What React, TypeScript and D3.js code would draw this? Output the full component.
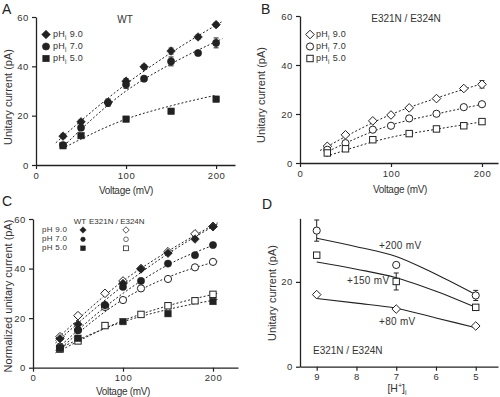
import React, { useEffect, useRef } from 'react'
import * as d3 from 'd3'

// ---- data ----
const voltage = [30, 50, 80, 100, 120, 150, 180, 200]
const voltageWt5 = [30, 50, 100, 150, 200]
const voltageMut5 = [30, 50, 80, 120, 150, 180, 200]

// A: WT unitary current (pA)
const wtPh9 = [11.7, 17.5, 25.3, 34, 39.8, 46.2, 51.9, 56.9]
const wtPh9Err = [0.8, 0.8, 1.5, 1, 0.8, 1.2, 0.8, 0.8]
const wtPh7 = [8.1, 15.1, 25.3, 32.6, 35, 42, 45.4, 49.5]
const wtPh7Err = [0.8, 1, 1, 1.5, 0.8, 1.8, 0.8, 2]
const wtPh5 = [7.8, 11.9, 18.6, 21.8, 26.7]

// B: E321N / E324N
const mutPh9 = [6.8, 11.5, 17.2, 19.6, 22.5, 26.3, 30.4, 32.1]
const mutPh9Err = [0.5, 0.5, 0.5, 0.5, 0.5, 0.5, 0.5, 1.5]
const mutPh7 = [5.4, 8.1, 13.6, 15.2, 18.2, 20.1, 22.8, 24]
const mutPh5 = [4.1, 5.8, 9.5, 12, 13.9, 15.2, 16.9]

// C: normalized mutant current
const normPh9 = [12.5, 21, 30, 35, 40, 46.8, 54, 57]
const normPh7 = [8.5, 15.2, 24.5, 27.3, 32, 35.8, 40.5, 42.7]
const normPh5 = [7.5, 10.8, 17, 21.5, 25, 27, 29.6]

// D: current vs [H+]
const hLevels = [9, 7, 5]
const at200 = [32.1, 24, 16.8]
const at200Err = [2.5, 0.5, 1.2]
const at150 = [26.3, 20.1, 14]
const at150Err = [0.5, 2, 0.5]
const at80 = [17, 13.6, 9.6]
const hFit = [9, 8, 7, 6, 5]
const fit200 = [30.3, 28.3, 26, 21.8, 17]
const fit150 = [24.7, 23, 21, 17.8, 14]
const fit80 = [16.1, 15, 13.8, 11.5, 9.2]

// fitted curves [mV, pA]
const fitA9 = [[22, 9], [100, 32.8], [150, 45.5], [206, 58]]
const fitA7 = [[28, 6.7], [100, 30], [150, 41], [207, 51.2]]
const fitA5 = [[33, 7.4], [100, 18.6], [150, 24], [200, 28.3]]
const fitB9 = [[22, 5.1], [100, 19.8], [150, 26.5], [204, 32.8]]
const fitB7 = [[27, 4.1], [100, 15.5], [150, 20], [202, 24.1]]
const fitB5 = [[29, 2.7], [100, 10.5], [150, 13.8], [202, 16.9]]
const fitCWt9 = [[25, 10], [100, 33], [150, 46], [205, 58]]
const fitCMut9 = [[25, 11], [100, 35], [150, 47], [205, 58.5]]
const fitCWt7 = [[25, 7], [100, 30], [150, 41.5], [205, 50]]
const fitCMut7 = [[25, 6], [100, 27.5], [150, 36.5], [205, 43]]
const fitCWt5 = [[30, 8], [100, 18.5], [150, 23.5], [205, 27.5]]
const fitCMut5 = [[28, 6.5], [100, 19], [150, 25], [205, 30]]

const voltTicks = [0, 100, 200]
const currentTicks = [0, 20, 40, 60]
const dTicksY = [0, 20]
const dTicksX = [9, 8, 7, 6, 5]

const font = 'Liberation Sans, Arial, sans-serif'
const ink = '#222'
const textInk = '#333'

function Axis({ scale, orient, ticks }) {
  const ref = useRef(null)
  useEffect(() => {
    const ax = orient === 'left' ? d3.axisLeft(scale) : d3.axisBottom(scale)
    ax.tickValues(ticks).tickSize(4).tickSizeOuter(0).tickPadding(3).tickFormat(d3.format('d'))
    const g = d3.select(ref.current)
    g.call(ax)
    g.select('.domain').attr('stroke', ink).attr('stroke-width', 1.3)
    g.selectAll('.tick line').attr('stroke', ink).attr('stroke-width', 1.2)
    g.selectAll('.tick text')
      .attr('fill', textInk)
      .attr('font-size', 9.5)
      .attr('letter-spacing', 0.6)
      .attr('font-family', font)
  }, [scale, orient, ticks])
  return <g ref={ref} />
}

function Marker({ kind, x, y, open }) {
  const fill = open ? '#fff' : ink
  const sw = open ? 1 : 0.6
  if (kind === 'diamond') {
    const r = 4.3
    return <path d={`M${x},${y - r}L${x + r},${y}L${x},${y + r}L${x - r},${y}Z`} fill={fill} stroke={ink} strokeWidth={sw} />
  }
  if (kind === 'circle') return <circle cx={x} cy={y} r={3.6} fill={fill} stroke={ink} strokeWidth={sw} />
  const s = 6.4
  return <rect x={x - s / 2} y={y - s / 2} width={s} height={s} fill={fill} stroke={ink} strokeWidth={sw} />
}

function Series({ xs, ys, errs, kind, open, x, y }) {
  return (
    <g>
      {errs && xs.map((v, i) => {
        const cx = x(v)
        const e = errs[i]
        return (
          <g key={'e' + i} stroke={ink} strokeWidth={1}>
            <line x1={cx} x2={cx} y1={y(ys[i] - e)} y2={y(ys[i] + e)} />
            <line x1={cx - 2.5} x2={cx + 2.5} y1={y(ys[i] + e)} y2={y(ys[i] + e)} />
            <line x1={cx - 2.5} x2={cx + 2.5} y1={y(ys[i] - e)} y2={y(ys[i] - e)} />
          </g>
        )
      })}
      {xs.map((v, i) => <Marker key={i} kind={kind} x={x(v)} y={y(ys[i])} open={open} />)}
    </g>
  )
}

function Fit({ pts, x, y, dashed = true }) {
  const line = d3.line().x(d => x(d[0])).y(d => y(d[1])).curve(d3.curveMonotoneX)
  return <path d={line(pts)} fill="none" stroke={ink} strokeWidth={dashed ? 1 : 1.1} strokeDasharray={dashed ? '2,2' : null} />
}

function PH({ x, y, val, sub = true, size = 9 }) {
  return (
    <text x={x} y={y} fontSize={size} fontFamily={font} fill={textInk} dominantBaseline="middle" letterSpacing={0.3}>
      pH{sub ? <tspan dy={3} fontSize={6.5}>i</tspan> : null}<tspan dy={sub ? -3 : 0}>{' ' + val}</tspan>
    </text>
  )
}

function Label({ x, y, text, size = 10, anchor = 'start', spacing = 0 }) {
  return <text x={x} y={y} fontSize={size} fontFamily={font} fill={textInk} textAnchor={anchor} letterSpacing={spacing}>{text}</text>
}

function AxisTitle({ x, y, text, rotate = false }) {
  return (
    <text x={x} y={y} fontSize={rotate ? 11 : 10} fontFamily={font} fill={textInk} textAnchor="middle"
      letterSpacing={rotate ? 0 : -0.3}
      transform={rotate ? `rotate(-90,${x},${y})` : null}>{text}</text>
  )
}

function Letter({ x, y, t }) {
  return <text x={x} y={y} fontSize={14} fontFamily={font} fill={ink}>{t}</text>
}

function PanelA() {
  const x = d3.scaleLinear().domain([0, 221]).range([36, 235])
  const y = d3.scaleLinear().domain([0, 60]).range([165, 17])
  return (
    <g>
      <g transform="translate(0,165)"><Axis scale={x} orient="bottom" ticks={voltTicks} /></g>
      <g transform="translate(36,0)"><Axis scale={y} orient="left" ticks={currentTicks} /></g>
      <Fit pts={fitA9} x={x} y={y} />
      <Fit pts={fitA7} x={x} y={y} />
      <Fit pts={fitA5} x={x} y={y} />
      <Series xs={voltage} ys={wtPh9} errs={wtPh9Err} kind="diamond" x={x} y={y} />
      <Series xs={voltage} ys={wtPh7} errs={wtPh7Err} kind="circle" x={x} y={y} />
      <Series xs={voltageWt5} ys={wtPh5} kind="square" x={x} y={y} />
      <Marker kind="diamond" x={46} y={34.5} />
      <Marker kind="circle" x={46} y={46.5} />
      <Marker kind="square" x={46} y={58.5} />
      <PH x={53} y={34.5} val="9.0" />
      <PH x={53} y={46.5} val="7.0" />
      <PH x={53} y={58.5} val="5.0" />
      <Label x={125} y={23} text="WT" anchor="middle" />
      <AxisTitle x={126} y={194} text="Voltage (mV)" />
      <AxisTitle x={12} y={97} text="Unitary current (pA)" rotate />
      <Letter x={2} y={14} t="A" />
    </g>
  )
}

function PanelB() {
  const x = d3.scaleLinear().domain([0, 217.6]).range([300, 498])
  const y = d3.scaleLinear().domain([0, 60]).range([163, 16])
  return (
    <g>
      <g transform="translate(0,163)"><Axis scale={x} orient="bottom" ticks={voltTicks} /></g>
      <g transform="translate(300,0)"><Axis scale={y} orient="left" ticks={currentTicks} /></g>
      <Fit pts={fitB9} x={x} y={y} />
      <Fit pts={fitB7} x={x} y={y} />
      <Fit pts={fitB5} x={x} y={y} />
      <Series xs={voltage} ys={mutPh9} errs={mutPh9Err} kind="diamond" open x={x} y={y} />
      <Series xs={voltage} ys={mutPh7} kind="circle" open x={x} y={y} />
      <Series xs={voltageMut5} ys={mutPh5} kind="square" open x={x} y={y} />
      <Marker kind="diamond" x={310} y={34.5} open />
      <Marker kind="circle" x={310} y={46.5} open />
      <Marker kind="square" x={310} y={58.5} open />
      <PH x={316} y={34.5} val="9.0" />
      <PH x={316} y={46.5} val="7.0" />
      <PH x={316} y={58.5} val="5.0" />
      <Label x={406} y={22} text="E321N / E324N" anchor="middle" />
      <AxisTitle x={400} y={193} text="Voltage (mV)" />
      <AxisTitle x={265} y={95} text="Unitary current (pA)" rotate />
      <Letter x={261} y={14} t="B" />
    </g>
  )
}

function PanelC() {
  const x = d3.scaleLinear().domain([0, 227.8]).range([33, 238])
  const y = d3.scaleLinear().domain([0, 60]).range([367.7, 219])
  const rows = [230, 239.3, 248.3]
  return (
    <g>
      <g transform="translate(0,367.7)"><Axis scale={x} orient="bottom" ticks={voltTicks} /></g>
      <g transform="translate(33,0)"><Axis scale={y} orient="left" ticks={currentTicks} /></g>
      <Fit pts={fitCWt9} x={x} y={y} />
      <Fit pts={fitCMut9} x={x} y={y} />
      <Fit pts={fitCWt7} x={x} y={y} />
      <Fit pts={fitCMut7} x={x} y={y} />
      <Fit pts={fitCWt5} x={x} y={y} />
      <Fit pts={fitCMut5} x={x} y={y} />
      <Series xs={voltage} ys={normPh9} kind="diamond" open x={x} y={y} />
      <Series xs={voltage} ys={normPh7} kind="circle" open x={x} y={y} />
      <Series xs={voltageMut5} ys={normPh5} kind="square" open x={x} y={y} />
      <Series xs={voltage} ys={wtPh9} kind="diamond" x={x} y={y} />
      <Series xs={voltage} ys={wtPh7} kind="circle" x={x} y={y} />
      <Series xs={voltageWt5} ys={wtPh5} kind="square" x={x} y={y} />
      <Label x={80} y={224} text="WT" anchor="middle" size={8} />
      <Label x={89} y={224} text="E321N / E324N" size={8} />
      <PH x={42} y={rows[0]} val="9.0" sub={false} size={8} />
      <PH x={42} y={rows[1]} val="7.0" sub={false} size={8} />
      <PH x={42} y={rows[2]} val="5.0" sub={false} size={8} />
      <g transform={`translate(83,${rows[0]}) scale(0.75)`}><Marker kind="diamond" x={0} y={0} /></g>
      <g transform={`translate(83,${rows[1]}) scale(0.65)`}><Marker kind="circle" x={0} y={0} /></g>
      <g transform={`translate(83,${rows[2]}) scale(0.75)`}><Marker kind="square" x={0} y={0} /></g>
      <g transform={`translate(126,${rows[0]}) scale(0.75)`}><Marker kind="diamond" x={0} y={0} open /></g>
      <g transform={`translate(126,${rows[1]}) scale(0.65)`}><Marker kind="circle" x={0} y={0} open /></g>
      <g transform={`translate(126,${rows[2]}) scale(0.75)`}><Marker kind="square" x={0} y={0} open /></g>
      <AxisTitle x={123} y={395} text="Voltage (mV)" />
      <AxisTitle x={12} y={296} text="Normalized unitary current (pA)" rotate />
      <Letter x={2} y={206} t="C" />
    </g>
  )
}

function PanelD() {
  const x = d3.scaleLinear().domain([9.42, 4.44]).range([300, 498])
  const y = d3.scaleLinear().domain([0, 35]).range([366.7, 218.3])
  return (
    <g>
      <g transform="translate(0,366.7)"><Axis scale={x} orient="bottom" ticks={dTicksX} /></g>
      <g transform="translate(300,0)"><Axis scale={y} orient="left" ticks={dTicksY} /></g>
      <Fit pts={hFit.map((h, i) => [h, fit200[i]])} x={x} y={y} dashed={false} />
      <Fit pts={hFit.map((h, i) => [h, fit150[i]])} x={x} y={y} dashed={false} />
      <Fit pts={hFit.map((h, i) => [h, fit80[i]])} x={x} y={y} dashed={false} />
      <Series xs={hLevels} ys={at200} errs={at200Err} kind="circle" open x={x} y={y} />
      <Series xs={hLevels} ys={at150} errs={at150Err} kind="square" open x={x} y={y} />
      <Series xs={hLevels} ys={at80} kind="diamond" open x={x} y={y} />
      <Label x={379} y={249} text="+200 mV" spacing={0.3} />
      <Label x={347} y={284} text="+150 mV" spacing={0.3} />
      <Label x={379} y={325} text="+80 mV" spacing={0.3} />
      <Label x={313} y={354} text="E321N / E324N" />
      <text x={397} y={392} fontSize={10.5} fontFamily={font} fill={textInk} textAnchor="middle">
        [H<tspan dy={-4} fontSize={7}>+</tspan><tspan dy={4}>]</tspan><tspan dy={3} fontSize={7}>i</tspan>
      </text>
      <AxisTitle x={276} y={293} text="Unitary current (pA)" rotate />
      <Letter x={262} y={209} t="D" />
    </g>
  )
}

export default function App() {
  return (
    <div style={{ position: 'absolute', left: 0, top: 0 }}>
      <svg width={500} height={397} style={{ display: 'block', background: '#fff' }}>
        <PanelA />
        <PanelB />
        <PanelC />
        <PanelD />
      </svg>
    </div>
  )
}
